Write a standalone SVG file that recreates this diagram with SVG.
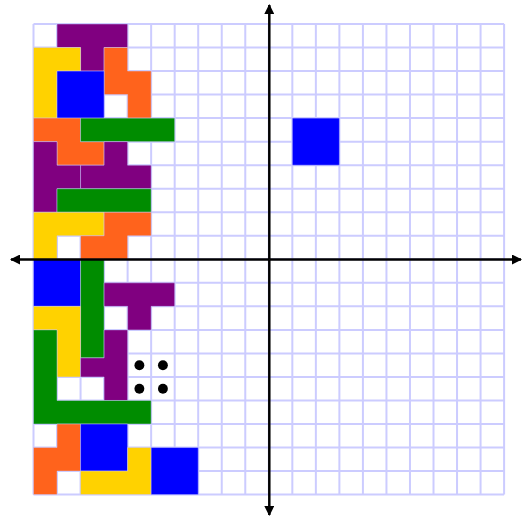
<svg xmlns="http://www.w3.org/2000/svg" width="523" height="517" viewBox="0 0 523 517">
<style>
.grid{fill:none;stroke:#ccccff;stroke-width:2}
.pc{stroke:#ccccff;stroke-opacity:0.45;stroke-width:1}
.pu{fill:#800080}.ye{fill:#ffd200}.or{fill:#ff631c}.gr{fill:#008c00}.bl{fill:#0000ff}
.ax{stroke:#000;stroke-width:2.5;fill:none}
</style>
<defs>
<marker id="ah" viewBox="0 0 10 10" refX="9" refY="5" markerWidth="4" markerHeight="4" orient="auto" markerUnits="strokeWidth">
<path d="M0,0 L10,5 L0,10 z" fill="#000"/>
</marker>
</defs>
<rect width="523" height="517" fill="#fff"/>
<g id="grid" transform="translate(33.5,24) scale(23.53)">
<path class="grid" vector-effect="non-scaling-stroke" d="M0,0V20M1,0V20M2,0V20M3,0V20M4,0V20M5,0V20M6,0V20M7,0V20M8,0V20M9,0V20M10,0V20M11,0V20M12,0V20M13,0V20M14,0V20M15,0V20M16,0V20M17,0V20M18,0V20M19,0V20M20,0V20M0,0H20M0,1H20M0,2H20M0,3H20M0,4H20M0,5H20M0,6H20M0,7H20M0,8H20M0,9H20M0,10H20M0,11H20M0,12H20M0,13H20M0,14H20M0,15H20M0,16H20M0,17H20M0,18H20M0,19H20M0,20H20"/>
</g>
<g id="pieces" transform="translate(33.5,24) scale(23.53)">
<polygon id="p1" class="pc pu" vector-effect="non-scaling-stroke" points="1,0 4,0 4,1 3,1 3,2 2,2 2,1 1,1"/>
<polygon id="p2" class="pc ye" vector-effect="non-scaling-stroke" points="0,1 2,1 2,2 1,2 1,4 0,4"/>
<polygon id="p3" class="pc or" vector-effect="non-scaling-stroke" points="3,1 4,1 4,2 5,2 5,4 4,4 4,3 3,3"/>
<rect id="p4" class="pc bl" vector-effect="non-scaling-stroke" x="1" y="2" width="2" height="2"/>
<polygon id="p5" class="pc or" vector-effect="non-scaling-stroke" points="0,4 2,4 2,5 3,5 3,6 1,6 1,5 0,5"/>
<rect id="p6" class="pc gr" vector-effect="non-scaling-stroke" x="2" y="4" width="4" height="1"/>
<polygon id="p7" class="pc pu" vector-effect="non-scaling-stroke" points="0,5 1,5 1,6 2,6 2,7 1,7 1,8 0,8"/>
<polygon id="p8" class="pc pu" vector-effect="non-scaling-stroke" points="3,5 4,5 4,6 5,6 5,7 2,7 2,6 3,6"/>
<rect id="p9" class="pc gr" vector-effect="non-scaling-stroke" x="1" y="7" width="4" height="1"/>
<polygon id="p10" class="pc ye" vector-effect="non-scaling-stroke" points="0,8 3,8 3,9 1,9 1,10 0,10"/>
<polygon id="p11" class="pc or" vector-effect="non-scaling-stroke" points="3,8 5,8 5,9 4,9 4,10 2,10 2,9 3,9"/>
<rect id="p12" class="pc bl" vector-effect="non-scaling-stroke" x="0" y="10" width="2" height="2"/>
<rect id="p13" class="pc gr" vector-effect="non-scaling-stroke" x="2" y="10" width="1" height="4.19"/>
<polygon id="p14" class="pc pu" vector-effect="non-scaling-stroke" points="3,11 6,11 6,12 5,12 5,13 4,13 4,12 3,12"/>
<polygon id="p15" class="pc ye" vector-effect="non-scaling-stroke" points="0,12 2,12 2,15 1,15 1,13 0,13"/>
<polygon id="p16" class="pc pu" vector-effect="non-scaling-stroke" points="3,13 4,13 4,16 3,16 3,15 2,15 2,14.19 3,14.19"/>
<polygon id="p17" class="pc gr" vector-effect="non-scaling-stroke" points="0,13 1,13 1,16 5,16 5,17 0,17"/>
<polygon id="p18" class="pc or" vector-effect="non-scaling-stroke" points="1,17 2,17 2,19 1,19 1,20 0,20 0,18 1,18"/>
<rect id="p19" class="pc bl" vector-effect="non-scaling-stroke" x="2" y="17" width="2" height="2"/>
<polygon id="p20" class="pc ye" vector-effect="non-scaling-stroke" points="4,18 5,18 5,20 2,20 2,19 4,19"/>
<rect id="p21" class="pc bl" vector-effect="non-scaling-stroke" x="5" y="18" width="2" height="2"/>
<rect id="p22" class="pc bl" vector-effect="non-scaling-stroke" x="11" y="4" width="2" height="2"/>
<g id="dots" fill="#000">
<circle cx="4.5" cy="14.5" r="0.21"/>
<circle cx="5.5" cy="14.5" r="0.21"/>
<circle cx="4.5" cy="15.5" r="0.21"/>
<circle cx="5.5" cy="15.5" r="0.21"/>
</g>
</g>
<g id="connectors">
<line class="ax" x1="269.3" y1="259.5" x2="11" y2="259.5" marker-end="url(#ah)"/>
<line class="ax" x1="269.3" y1="259.5" x2="521" y2="259.5" marker-end="url(#ah)"/>
<line class="ax" x1="269.3" y1="259.5" x2="269.3" y2="5" marker-end="url(#ah)"/>
<line class="ax" x1="269.3" y1="259.5" x2="269.3" y2="515" marker-end="url(#ah)"/>
</g>
</svg>
